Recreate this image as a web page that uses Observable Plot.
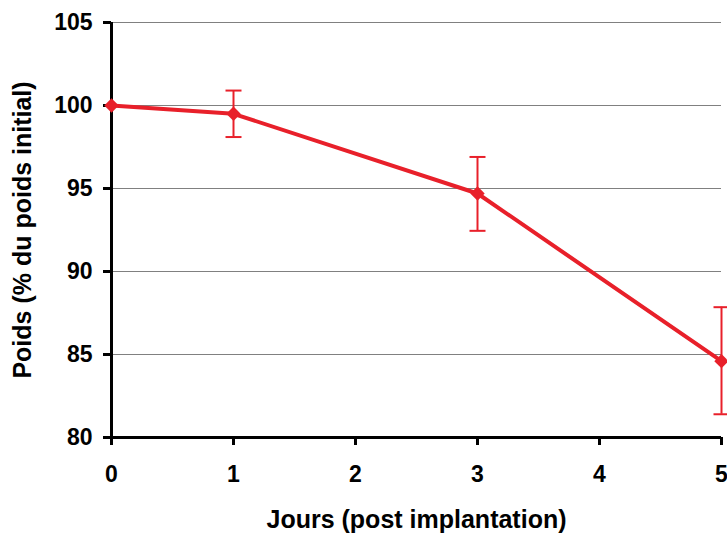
<!DOCTYPE html>
<html>
<head>
<meta charset="utf-8">
<script src="https://cdn.jsdelivr.net/npm/d3@7"></script>
<script src="https://cdn.jsdelivr.net/npm/@observablehq/plot@0.6"></script>
<style>
body { margin: 0; background: #fff; }
</style>
</head>
<body>
<div id="chart"></div>
<script>
const days = [0, 1, 3, 5];
const weights = [100, 99.5, 94.7, 84.6];
const errLow = [100, 98.1, 92.45, 81.4];
const errHigh = [100, 100.9, 96.9, 87.85];
const xTicks = [0, 1, 2, 3, 4, 5];
const yTicks = [80, 85, 90, 95, 100, 105];
const xLabel = "Jours (post implantation)";
const yLabel = "Poids (% du poids initial)";

const data = days.map((d, i) => ({day: d, w: weights[i], lo: errLow[i], hi: errHigh[i]}));
const errData = data.filter(d => d.hi > d.lo);

const red = "#e8202a";
const capSymbol = { draw(ctx, size) { const r = 8; ctx.moveTo(-r, 0); ctx.lineTo(r, 0); } };
const font = "'Liberation Sans', Arial, sans-serif";

const chart = Plot.plot({
  width: 727,
  height: 533,
  marginLeft: 111,
  marginRight: 6,
  marginTop: 22,
  marginBottom: 96,
  style: { fontFamily: font, fontWeight: "bold", background: "#fff" },
  x: { domain: [0, 5] },
  y: { domain: [80, 105] },
  marks: [
    Plot.ruleY(yTicks.filter(t => t > 80), { stroke: "#808080", strokeWidth: 1 }),
    Plot.axisY(yTicks, { tickSize: 8, tickFormat: () => "", stroke: "#000", strokeWidth: 3, label: null }),
    Plot.axisX(xTicks, { tickSize: 8, tickFormat: () => "", stroke: "#000", strokeWidth: 3, label: null }),
    Plot.text(yTicks, { y: d => d, text: d => String(d), frameAnchor: "left", dx: -19, textAnchor: "end", lineAnchor: "middle", fontSize: 23, fontWeight: "bold", fill: "#000" }),
    Plot.text(xTicks, { x: d => d, text: d => String(d), frameAnchor: "bottom", dy: 37, textAnchor: "middle", lineAnchor: "middle", fontSize: 23, fontWeight: "bold", fill: "#000" }),
    Plot.ruleY([80], { stroke: "#000", strokeWidth: 3 }),
    Plot.ruleX([0], { stroke: "#000", strokeWidth: 3 }),
    Plot.text([xLabel], { frameAnchor: "bottom", dy: 82, lineAnchor: "middle", fontSize: 25, fontWeight: "bold", fill: "#000" }),
    Plot.text([yLabel], { frameAnchor: "left", rotate: -90, dx: -89, textAnchor: "middle", lineAnchor: "middle", fontSize: 25, fontWeight: "bold", fill: "#000" }),
    Plot.ruleX(errData, { x: "day", y1: "lo", y2: "hi", stroke: red, strokeWidth: 2 }),
    Plot.dot(errData, { x: "day", y: "lo", symbol: capSymbol, stroke: red, strokeWidth: 2, r: 8 }),
    Plot.dot(errData, { x: "day", y: "hi", symbol: capSymbol, stroke: red, strokeWidth: 2, r: 8 }),
    Plot.line(data, { x: "day", y: "w", stroke: red, strokeWidth: 4 }),
    Plot.dot(data, { x: "day", y: "w", symbol: "diamond2", fill: red, stroke: "none", r: 6.5 })
  ]
});
document.getElementById("chart").append(chart);
</script>
</body>
</html>
